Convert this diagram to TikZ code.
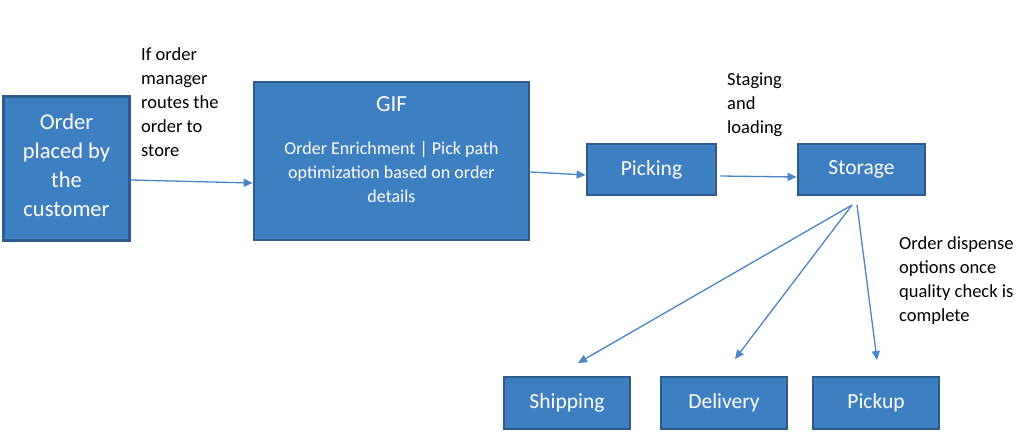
\documentclass[tikz,border=0pt]{standalone}
\usepackage{fontspec}
\setmainfont{Carlito}
\usetikzlibrary{arrows.meta}
\definecolor{boxfill}{RGB}{62,127,193}
\definecolor{boxline}{RGB}{46,91,140}
\definecolor{arrowc}{RGB}{74,134,198}
\tikzset{
  stepbox/.style={draw=boxline, line width=2.8pt, fill=boxfill, text=white, inner sep=0pt, align=center, font=\fontsize{21.5}{24}\selectfont},
  boxtext/.style={inner sep=0pt, text=white, anchor=base, align=center},
  flow/.style={draw=arrowc, line width=1.3pt, -{Triangle[length=9pt,width=8pt]}},
  note/.style={inner sep=0pt, anchor=base west, align=left, font=\fontsize{18.5}{24}\selectfont}
}
\begin{document}
\begin{tikzpicture}[x=1pt,y=-1pt]
\useasboundingbox (0,0) rectangle (1018,445);
% boxes
\node[stepbox, minimum width=126pt, minimum height=144pt] (order) at (66.5,168.5) {};
\node[boxtext, font=\fontsize{22.5}{29}\selectfont] (ordertext) at (66.5,216) {Order\\placed by\\the\\customer};
\node[stepbox, minimum width=275pt, minimum height=158pt] (gif) at (391.5,161) {};
\node[boxtext, font=\fontsize{23}{24}\selectfont] (giftitle) at (391.5,111) {GIF};
\node[boxtext, font=\fontsize{18}{24}\selectfont] (giftext) at (391.5,202) {Order Enrichment | Pick path\\optimization based on order\\details};
\node[stepbox, minimum width=129pt, minimum height=51pt] (picking) at (651.5,169.5) {Picking};
\node[stepbox, minimum width=127pt, minimum height=51pt] (storage) at (861.5,169.5) {Storage};
\node[stepbox, minimum width=126pt, minimum height=52pt] (shipping) at (567,403) {Shipping};
\node[stepbox, minimum width=126pt, minimum height=52pt] (delivery) at (724,403) {Delivery};
\node[stepbox, minimum width=126pt, minimum height=52pt] (pickup) at (876,403) {Pickup};
% labels
\node[note] (lab1) at (141,156) {If order\\manager\\routes the\\order to\\store};
\node[note] (lab2) at (727,133) {Staging\\and\\loading};
\node[note] (lab3) at (899,321) {Order dispense\\options once\\quality check is\\complete};
% connectors
\draw[flow] ([yshift=-11.5pt]order.east) -- ([yshift=-22pt]gif.west);
\draw[flow] ([yshift=-11pt]gif.east) -- ([yshift=-5.5pt]picking.west);
\draw[flow] ([xshift=3pt,yshift=-6.5pt]picking.east) -- ([yshift=-7.5pt]storage.west);
\coordinate (fanA) at (852,205);
\coordinate (fanB) at (857,205);
\coordinate (tipS) at (578,363);
\coordinate (tipD) at (735,359);
\coordinate (tipP) at (877,360);
\draw[flow] (fanA) -- (tipS);
\draw[flow] (fanA) -- (tipD);
\draw[flow] (fanB) -- (tipP);
\end{tikzpicture}
\end{document}
